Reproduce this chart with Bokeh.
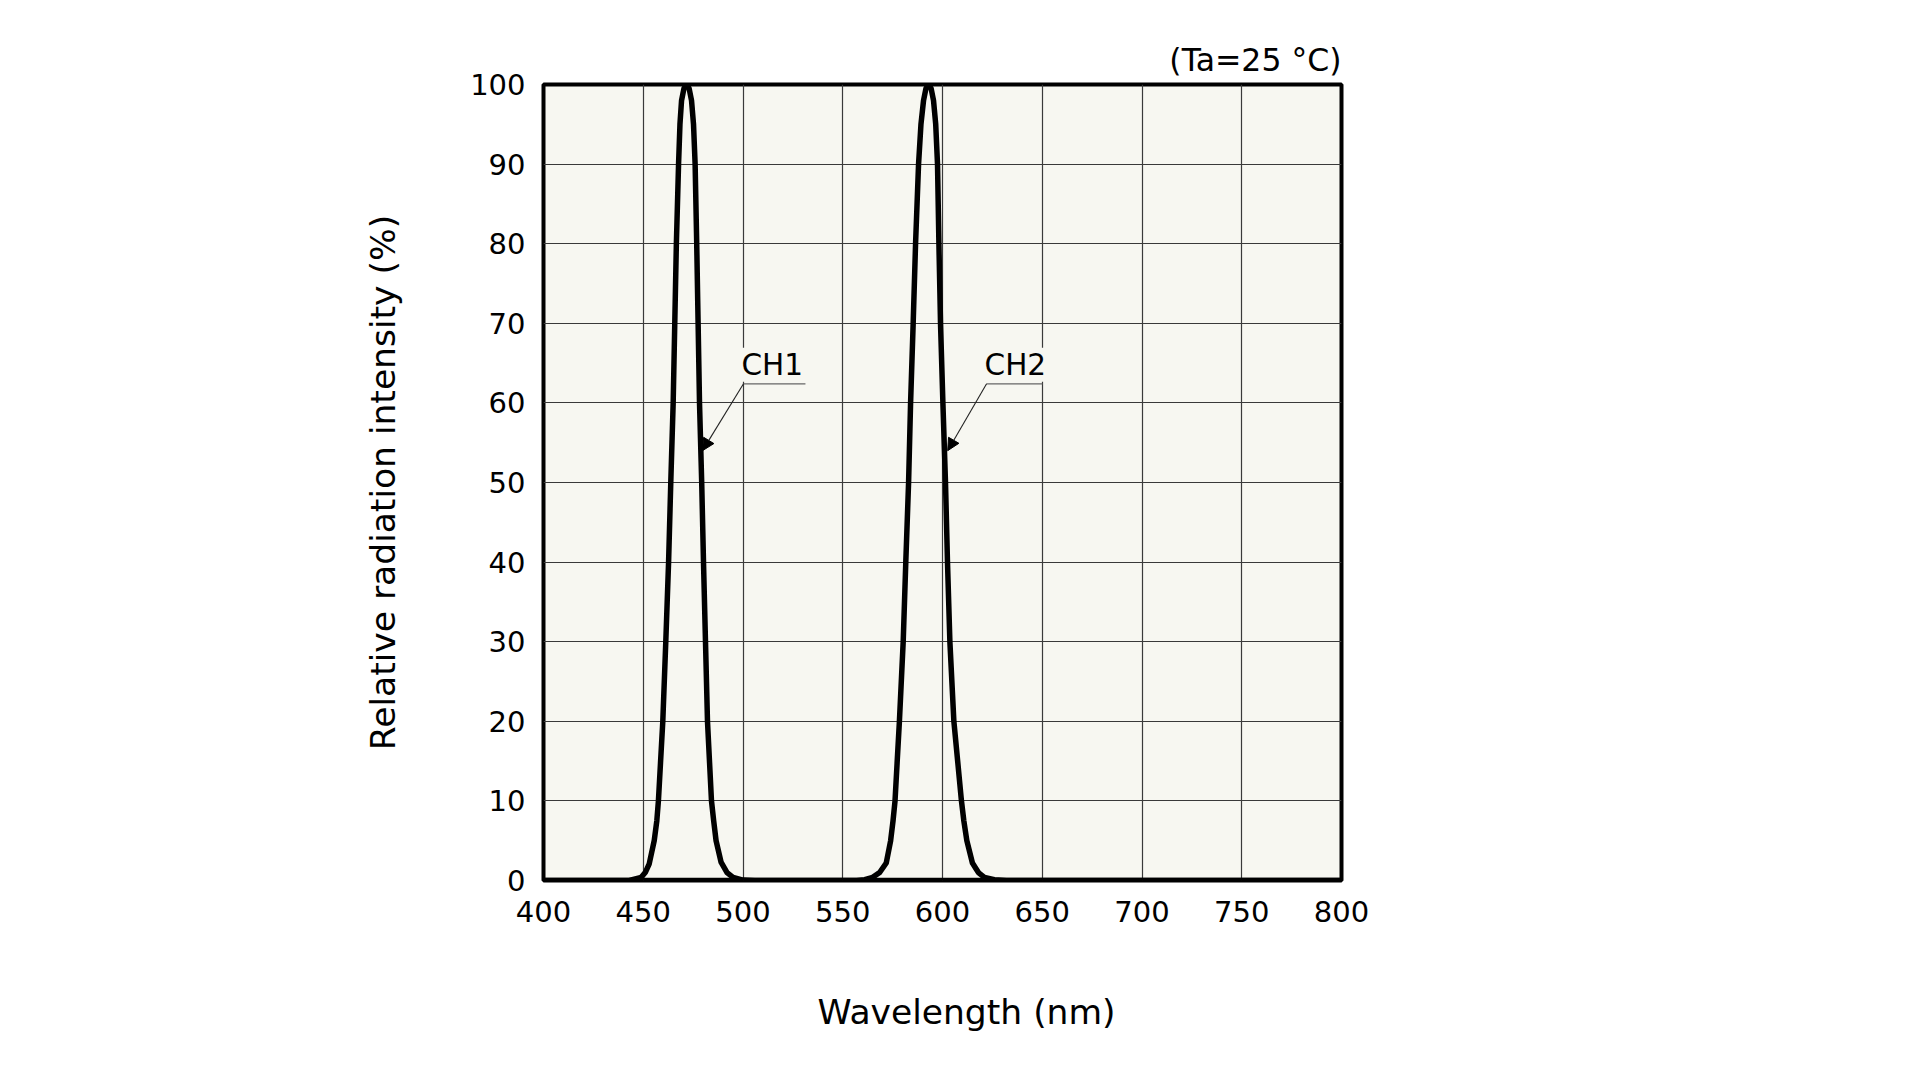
from bokeh.plotting import figure
from bokeh.models import Range1d, FixedTicker, Label, Arrow, NormalHead, Title
from bokeh.embed import file_html
from bokeh.resources import INLINE

# ---- data ----
ch1_wavelength = [400, 443.0, 449.0, 451.0, 453.0, 455.5, 456.8, 457.6, 459.8, 461.3, 462.7,
                  463.8, 465.0, 465.8, 466.6, 467.7, 468.4, 469.2, 470.4, 471.7, 473.0, 474.2,
                  475.2, 476.0, 476.8, 477.5, 478.2, 479.3, 480.2, 481.2, 482.2, 484.2, 485.3,
                  486.5, 489.0, 492.0, 495.0, 500.0, 506.0, 800]
ch1_intensity = [0, 0, 0.4, 1.0, 2.1, 5.0, 7.5, 10, 20, 30, 40,
                 50, 60, 70, 80, 90, 95, 98, 99.5, 100, 99.5, 98,
                 95, 90, 80, 70, 60, 50, 40, 30, 20, 10, 7.5,
                 5.0, 2.3, 1.0, 0.4, 0.05, 0, 0]

ch2_wavelength = [400, 557.0, 561.0, 565.0, 568.5, 571.8, 574.0, 575.2, 576.2, 578.4, 580.3,
                  581.6, 583.0, 584.0, 585.3, 586.5, 588.0, 589.2, 590.5, 591.7, 593.0, 594.3,
                  595.5, 596.6, 597.5, 598.2, 599.0, 600.2, 601.5, 602.5, 603.7, 605.7, 609.5,
                  610.7, 612.2, 615.0, 618.0, 621.0, 626.0, 632.0, 800]
ch2_intensity = [0, 0, 0.1, 0.4, 1.0, 2.2, 5.0, 7.5, 10, 20, 30,
                 40, 50, 60, 70, 80, 90, 95, 98, 99.5, 100, 99.5,
                 98, 95, 90, 80, 70, 60, 50, 40, 30, 20, 10,
                 7.5, 5.0, 2.2, 1.0, 0.4, 0.1, 0, 0]

x_ticks = [400, 450, 500, 550, 600, 650, 700, 750, 800]
y_ticks = [0, 10, 20, 30, 40, 50, 60, 70, 80, 90, 100]

series_names = ["CH1", "CH2"]
# annotation anchor positions (data units): label corner, underline end, arrow tip
label_anchor_x = [500.25, 622.1]
label_anchor_y = [62.4, 62.4]
underline_end_x = [531.3, 650.1]
arrow_tip_x = [479.7, 602.6]
arrow_tip_y = [54.0, 54.0]

title_text = "(Ta=25 °C)"
x_title = "Wavelength (nm)"
y_title = "Relative radiation intensity (%)"

FONT = "DejaVu Sans"
BG = "#f7f7f1"

p = figure(
    output_backend="svg",
    toolbar_location=None,
    frame_width=798,
    frame_height=796,
    min_border_left=543,
    min_border_top=84,
    min_border_bottom=40,
    min_border_right=60,
    x_range=Range1d(400, 800),
    y_range=Range1d(0, 100),
    background_fill_color=BG,
    border_fill_color="white",
    title=title_text,
)

p.title.align = "right"
p.title.text_font = FONT
p.title.text_font_size = "31.5px"
p.title.text_font_style = "normal"
p.title.text_color = "black"
p.title.standoff = 14

p.outline_line_color = "black"
p.outline_line_width = 4
p.outline_line_alpha = 1.0

for ax in (p.xaxis[0], p.yaxis[0]):
    ax.axis_line_color = None
    ax.major_tick_line_color = None
    ax.minor_tick_line_color = None
    ax.major_tick_out = 0
    ax.major_tick_in = 0
    ax.minor_tick_out = 0
    ax.minor_tick_in = 0
    ax.major_label_text_font = FONT
    ax.major_label_text_font_size = "29px"
    ax.major_label_text_color = "black"
    ax.axis_label_text_font = FONT
    ax.axis_label_text_font_size = "34.5px"
    ax.axis_label_text_font_style = "normal"
    ax.axis_label_text_color = "black"

p.xaxis[0].ticker = FixedTicker(ticks=x_ticks)
p.yaxis[0].ticker = FixedTicker(ticks=y_ticks)
p.xaxis[0].major_label_standoff = 20
p.yaxis[0].major_label_standoff = 18
p.yaxis[0].axis_label = y_title
p.yaxis[0].axis_label_standoff = 64

# x title as a bottom Title (left-aligned with an offset, as it sits right of centre)
p.add_layout(Title(text=x_title, align="left", offset=274, standoff=130,
                   vertical_align="bottom",
                   text_font=FONT, text_font_size="34.5px", text_font_style="normal",
                   text_color="black"), "below")

for g in (p.xgrid[0], p.ygrid[0]):
    g.grid_line_color = "#3a3a3a"
    g.grid_line_width = 1.2
p.xgrid[0].ticker = FixedTicker(ticks=x_ticks)
p.ygrid[0].ticker = FixedTicker(ticks=y_ticks)

p.line(ch1_wavelength, ch1_intensity, line_color="black", line_width=5.5, line_join="round")
p.line(ch2_wavelength, ch2_intensity, line_color="black", line_width=5.5, line_join="round")

for name, lx, ly, ux, tx, ty in zip(series_names, label_anchor_x, label_anchor_y,
                                      underline_end_x, arrow_tip_x, arrow_tip_y):
    p.add_layout(Label(x=lx, y=ly, text=name, x_offset=-2, y_offset=19,
                       text_font=FONT, text_font_size="29.5px", text_color="black",
                       text_baseline="alphabetic", text_align="left",
                       background_fill_color=BG, background_fill_alpha=1.0))
    # underline (drawn after the label box so it stays visible)
    p.add_layout(Arrow(end=None, x_start=lx, y_start=ly, x_end=ux, y_end=ly,
                       line_color="#666666", line_width=1.2))
    p.add_layout(Arrow(end=NormalHead(size=12, fill_color="black", line_color="black", line_width=1),
                       x_start=lx, y_start=ly, x_end=tx, y_end=ty,
                       line_color="#222222", line_width=1.1))

open("out.html", "w").write(file_html(p, INLINE))
